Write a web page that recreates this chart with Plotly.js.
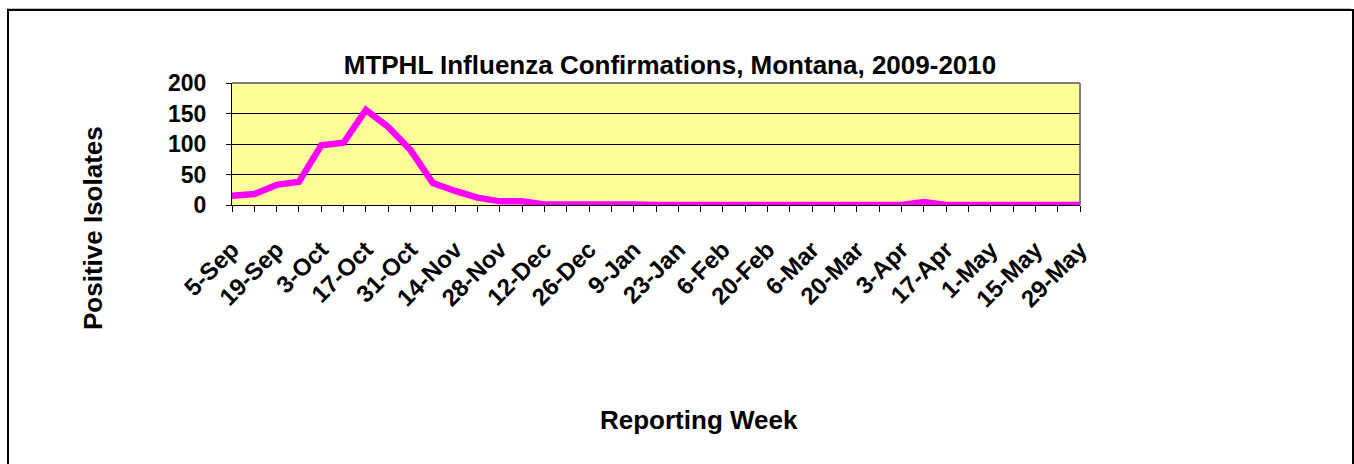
<!DOCTYPE html>
<html>
<head>
<meta charset="utf-8">
<script src="https://cdn.plot.ly/plotly-3.0.1.min.js"></script>
<style>
  html, body { margin: 0; padding: 0; background: #ffffff; }
  #frame { position: absolute; left: 7px; top: 8px; width: 1344px; height: 470px;
           border-top: 1px solid #c0c0c0; }
  #frame2 { position: absolute; left: 7px; top: 9px; width: 1347px; height: 470px;
           border-top: 2px solid #000; border-left: 2px solid #000; border-right: 2px solid #000; box-sizing: border-box; }
  #chart { position: absolute; left: 0; top: 0; width: 1354px; height: 464px; }
</style>
</head>
<body>
<div id="frame"></div>
<div id="frame2"></div>
<div id="chart"></div>
<script>
const weeks = ["5-Sep","12-Sep","19-Sep","26-Sep","3-Oct","10-Oct","17-Oct","24-Oct","31-Oct",
  "7-Nov","14-Nov","21-Nov","28-Nov","5-Dec","12-Dec","19-Dec","26-Dec","2-Jan","9-Jan",
  "16-Jan","23-Jan","30-Jan","6-Feb","13-Feb","20-Feb","27-Feb","6-Mar","13-Mar","20-Mar",
  "27-Mar","3-Apr","10-Apr","17-Apr","24-Apr","1-May","8-May","15-May","22-May","29-May"];
const positives = [15, 18, 33, 38, 98, 102, 156, 128, 90, 36, 23, 12, 6, 6, 1, 1, 1, 3, 1,
  0, 0, 0, 0, 0, 0, 0, 0, 0, 1, 0, 0, 5, 0, 0, 0, 0, 0, 0, 0];
const labelStep = 2;
const yTicks = [0, 50, 100, 150, 200];

const xIdx = weeks.map((_, i) => i);
const tickIdx = xIdx.filter(i => i % labelStep === 0);
const tickText = tickIdx.map(i => weeks[i]);

const trace = {
  x: xIdx, y: positives, type: 'scatter', mode: 'lines',
  line: { color: '#ff00ff', width: 6.5 },
  cliponaxis: false, hoverinfo: 'skip'
};

const layout = {
  width: 1354, height: 464,
  margin: { l: 232, r: 274, t: 83, b: 259, pad: 0 },
  paper_bgcolor: 'rgba(0,0,0,0)',
  plot_bgcolor: '#ffff99',
  showlegend: false,
  font: { family: 'Liberation Sans, Arial, sans-serif', color: '#000' },
  title: {
    text: '<b>MTPHL Influenza Confirmations, Montana, 2009-2010</b>',
    font: { size: 26, color: '#000' },
    xref: 'paper', x: 0.5165, xanchor: 'center',
    yref: 'container', y: 1 - 65 / 464, yanchor: 'middle'
  },
  xaxis: {
    range: [0, xIdx.length - 1],
    tickmode: 'array', tickvals: tickIdx, ticktext: tickText,
    tickangle: -45,
    tickfont: { size: 24, family: 'Liberation Sans, Arial, sans-serif', weight: 'bold' },
    ticks: 'outside', ticklen: 6, tickcolor: '#000', tickwidth: 1,
    ticklabelstandoff: 14,
    minor: { dtick: 1, ticks: 'outside', ticklen: 6, tickcolor: '#000', tickwidth: 1, showgrid: false },
    showgrid: false, zeroline: false,
    showline: true, linecolor: '#000', linewidth: 1,
    fixedrange: true
  },
  yaxis: {
    range: [0, 200], tickmode: 'array', tickvals: yTicks,
    ticktext: yTicks.map(String),
    tickfont: { size: 23, weight: 'bold' },
    ticks: 'outside', ticklen: 5, tickcolor: '#000', tickwidth: 1,
    ticklabelstandoff: 15,
    showgrid: true, gridcolor: '#000', gridwidth: 1,
    zeroline: false,
    showline: true, linecolor: '#000', linewidth: 1,
    fixedrange: true
  },
  shapes: [
    { type: 'line', xref: 'paper', yref: 'paper', x0: 0, x1: 1, y0: 1, y1: 1, line: { color: '#808080', width: 2 }, layer: 'above' },
    { type: 'line', xref: 'paper', yref: 'paper', x0: 1, x1: 1, y0: 0, y1: 1, line: { color: '#808080', width: 2 }, layer: 'below' }
  ],
  annotations: [
    { text: '<b>Positive Isolates</b>', xref: 'paper', yref: 'paper',
      x: (93 - 232) / 848, y: (205 - 228) / 122, textangle: -90,
      showarrow: false, font: { size: 26 }, xanchor: 'center', yanchor: 'middle' },
    { text: '<b>Reporting Week</b>', xref: 'paper', yref: 'paper',
      x: (699 - 232) / 848, y: (205 - 420) / 122, showarrow: false,
      font: { size: 26 }, xanchor: 'center', yanchor: 'middle' }
  ]
};

Plotly.newPlot('chart', [trace], layout, { staticPlot: true, displayModeBar: false });
</script>
</body>
</html>
